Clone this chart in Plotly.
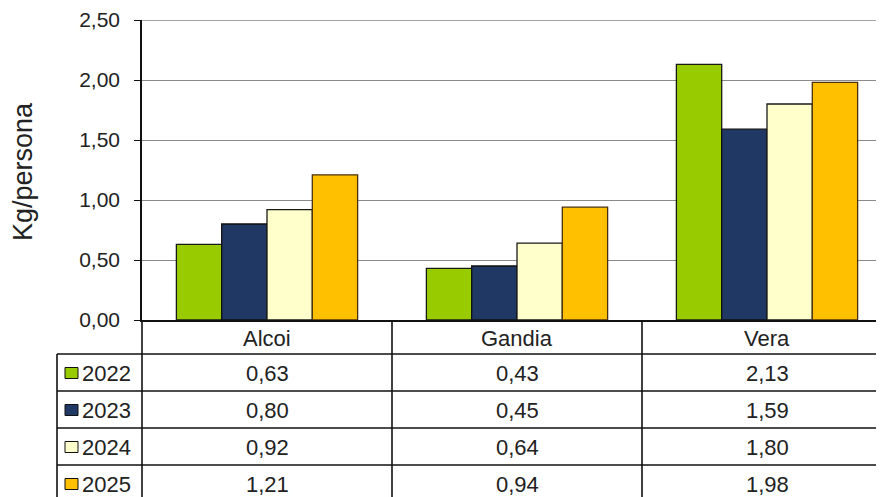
import plotly.graph_objects as go

categories = ["Alcoi", "Gandia", "Vera"]
years = ["2022", "2023", "2024", "2025"]
values = {
    "2022": [0.63, 0.43, 2.13],
    "2023": [0.80, 0.45, 1.59],
    "2024": [0.92, 0.64, 1.80],
    "2025": [1.21, 0.94, 1.98],
}
colors = {"2022": "#99CC00", "2023": "#1F3864", "2024": "#FFFFCC", "2025": "#FFC000"}
outline = {"2022": "#1a1a1a", "2023": "#111111", "2024": "#1a1a1a", "2025": "#4a3010"}
y_title = "Kg/persona"
y_ticks = [0, 0.5, 1.0, 1.5, 2.0, 2.5]

OFF = 8  # page body margin
W, H = 884 - OFF, 497 - OFF
L, T = 142 - OFF, 20 - OFF
PW, PH = W - L, 300
B = H - T - PH
FONT = "Liberation Sans, Arial, sans-serif"


# conversions from reference-picture pixels to paper coords
def px(x):
    return (x - 142) / PW


def py(y):
    return (320 - y) / PH


fig = go.Figure()
for yr in years:
    fig.add_trace(go.Bar(
        x=categories, y=values[yr], name=yr,
        marker=dict(color=colors[yr], line=dict(color=outline[yr], width=1.3)),
        showlegend=False,
    ))

shapes = []
annotations = []
line = dict(color="#111111", width=1.6)

header_top = 320
row_lines = [354, 391, 428, 465]
bottom = 510
row_centers = [373, 410, 447, 484]
header_center = 338
left_col = 57
col_bounds = [392, 642]

# top gridline (2.50)
shapes.append(dict(type="line", xref="paper", yref="y", x0=0, x1=1,
                   y0=y_ticks[-1], y1=y_ticks[-1], line=dict(color="#8a8a8a", width=1.5)))

for yv in row_lines:
    shapes.append(dict(type="line", xref="paper", yref="paper",
                       x0=px(left_col), x1=px(900), y0=py(yv), y1=py(yv), line=line))
shapes.append(dict(type="line", xref="paper", yref="paper",
                   x0=px(left_col), x1=px(left_col), y0=py(row_lines[0]), y1=py(bottom), line=line))
shapes.append(dict(type="line", xref="paper", yref="paper",
                   x0=0, x1=0, y0=py(header_top), y1=py(bottom), line=line))
for xb in col_bounds:
    shapes.append(dict(type="line", xref="paper", yref="paper",
                       x0=px(xb), x1=px(xb), y0=py(header_top), y1=py(bottom), line=line))

TXT = dict(family=FONT, size=22, color="#222222")
for c in categories:
    annotations.append(dict(x=c, xref="x", y=py(header_center), yref="paper",
                            text=c, showarrow=False, xanchor="center", yanchor="middle",
                            font=TXT))

for yr, yc in zip(years, row_centers):
    shapes.append(dict(type="rect", xref="paper", yref="paper",
                       x0=px(65), x1=px(78), y0=py(yc + 5.5), y1=py(yc - 5.5),
                       fillcolor=colors[yr], line=dict(color="#111111", width=1)))
    annotations.append(dict(x=px(80), xref="paper", y=py(yc), yref="paper",
                            text=yr, showarrow=False, xanchor="left", yanchor="middle",
                            font=TXT))
    for c, v in zip(categories, values[yr]):
        annotations.append(dict(x=c, xref="x", y=py(yc), yref="paper",
                                text=f"{v:.2f}".replace(".", ","), showarrow=False,
                                xanchor="center", yanchor="middle", font=TXT))

annotations.append(dict(x=px(23), xref="paper", y=py(172), yref="paper",
                        text=y_title, textangle=-90, showarrow=False,
                        xanchor="center", yanchor="middle",
                        font=dict(family=FONT, size=27, color="#222222")))

fig.update_layout(
    width=W, height=H,
    margin=dict(l=L, r=0, t=T, b=B, pad=0),
    paper_bgcolor="white", plot_bgcolor="white",
    barmode="group", bargap=0.275, bargroupgap=0,
    separators=",.",
    shapes=shapes, annotations=annotations,
    font=dict(family=FONT, color="#222222"),
)
fig.update_xaxes(
    range=[-0.5, -0.5 + PW / 250.0], showticklabels=False, ticks="",
    showline=True, linecolor="#111111", linewidth=1.6, showgrid=False,
    fixedrange=True,
)
fig.update_yaxes(
    range=[0, 2.5], tickvals=y_ticks, tickformat=".2f",
    showline=True, linecolor="#111111", linewidth=1.6,
    ticks="outside", ticklen=6, tickcolor="#111111", tickwidth=1,
    ticklabelstandoff=10,
    showgrid=True, gridcolor="#8a8a8a", gridwidth=1, zeroline=False,
    tickfont=dict(family=FONT, size=21, color="#222222"),
    fixedrange=True,
)

fig.write_html("out.html")
